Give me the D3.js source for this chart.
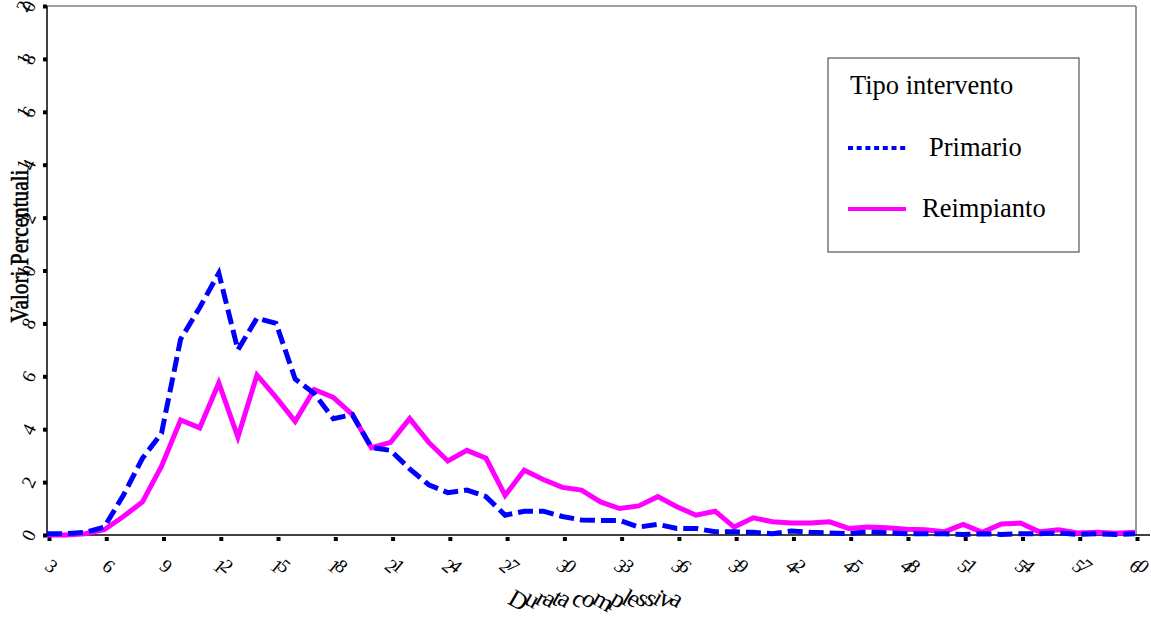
<!DOCTYPE html>
<html>
<head>
<meta charset="utf-8">
<script src="https://cdn.jsdelivr.net/npm/d3@7"></script>
<style>
  body { margin: 0; background: #fff; }
  svg { display: block; font-family: "Liberation Serif", "DejaVu Serif", serif; }
</style>
</head>
<body>
<svg width="1151" height="625"></svg>
<script>
// durata (x) and the two percentage series
var durata = [3, 4, 5, 6, 7, 8, 9, 10, 11, 12, 13, 14, 15, 16, 17, 18, 19, 20,
  21, 22, 23, 24, 25, 26, 27, 28, 29, 30, 31, 32, 33, 34, 35, 36, 37, 38, 39, 40,
  41, 42, 43, 44, 45, 46, 47, 48, 49, 50, 51, 52, 53, 54, 55, 56, 57, 58, 59, 60];

var primario = [0.05, 0.05, 0.1, 0.3, 1.5, 2.9, 3.85, 7.4, 8.6, 9.9, 7.0, 8.2, 8.0, 5.9,
  5.35, 4.4, 4.55, 3.3, 3.2, 2.5, 1.9, 1.6, 1.7, 1.45, 0.75, 0.9, 0.9, 0.7, 0.57, 0.55,
  0.55, 0.3, 0.4, 0.25, 0.25, 0.12, 0.12, 0.1, 0.05, 0.15, 0.1, 0.08, 0.05, 0.12, 0.08,
  0.05, 0.05, 0.05, 0.02, 0.05, 0.02, 0.05, 0.05, 0.08, 0.02, 0.05, 0.02, 0.05];

var reimpianto = [0, 0, 0.05, 0.2, 0.7, 1.25, 2.6, 4.35, 4.05, 5.75, 3.7, 6.05, 5.2, 4.3,
  5.5, 5.2, 4.55, 3.3, 3.5, 4.4, 3.5, 2.8, 3.2, 2.9, 1.5, 2.45, 2.1, 1.8, 1.7, 1.25,
  1.0, 1.1, 1.45, 1.07, 0.75, 0.9, 0.3, 0.65, 0.5, 0.45, 0.45, 0.5, 0.25, 0.3, 0.27,
  0.22, 0.2, 0.12, 0.4, 0.1, 0.42, 0.45, 0.12, 0.2, 0.08, 0.1, 0.07, 0.1];

var xTicks = [3, 6, 9, 12, 15, 18, 21, 24, 27, 30, 33, 36, 39, 42, 45, 48, 51, 54, 57, 60];
var yTicks = [0, 2, 4, 6, 8, 10, 12, 14, 16, 18, 20];

var seriesNames = ["Primario", "Reimpianto"];

(function () {
  var svg = d3.select("svg");

  var plotLeft = 47, plotRight = 1135, plotTop = 6, plotBottom = 535;

  var x = d3.scaleLinear().domain([3, 60]).range([plotLeft, plotRight]);
  var y = d3.scaleLinear().domain([0, 20]).range([plotBottom, plotTop]);

  // frame: top and right edges
  svg.append("line")
    .attr("x1", plotLeft).attr("x2", plotRight + 1)
    .attr("y1", plotTop).attr("y2", plotTop)
    .attr("stroke", "#444").attr("stroke-width", 1);
  svg.append("line")
    .attr("x1", plotRight + 1).attr("x2", plotRight + 1)
    .attr("y1", plotTop).attr("y2", plotBottom)
    .attr("stroke", "#777").attr("stroke-width", 1.5);

  // x axis
  var xAxis = d3.axisBottom(x).tickValues(xTicks).tickSize(4).tickPadding(12);
  var gx = svg.append("g")
    .attr("transform", "translate(0," + plotBottom + ")")
    .call(xAxis);
  gx.select(".domain").attr("stroke", "#000").attr("stroke-width", 1.5)
    .attr("d", "M" + plotLeft + ",0H1150");
  gx.selectAll(".tick line")
    .attr("y1", 2).attr("y2", 6)
    .attr("stroke-width", 4)
    .attr("transform", "translate(2,0)");
  gx.selectAll(".tick text")
    .attr("font-family", "Liberation Serif, serif")
    .attr("font-size", 19)
    .attr("fill", "#000")
    .attr("letter-spacing", -2)
    .attr("rotate", 40)
    .attr("dy", "0.9em");

  // y axis
  var yAxis = d3.axisLeft(y).tickValues(yTicks).tickSize(4).tickPadding(5);
  var gy = svg.append("g")
    .attr("transform", "translate(" + plotLeft + ",0)")
    .call(yAxis);
  gy.select(".domain").attr("stroke", "#000").attr("stroke-width", 1.5)
    .attr("d", "M0," + plotTop + "V" + plotBottom);
  gy.selectAll(".tick line")
    .attr("stroke-width", 4);
  gy.selectAll(".tick text")
    .attr("font-family", "Liberation Serif, serif")
    .attr("font-size", 19)
    .attr("fill", "#000")
    .attr("letter-spacing", -4)
    .attr("rotate", -65)
    .attr("dy", "0.35em");

  // axis titles
  svg.append("text")
    .attr("transform", "translate(28,246) rotate(-90)")
    .attr("text-anchor", "middle")
    .attr("font-size", 25)
    .attr("stroke", "#000")
    .attr("stroke-width", 0.6)
    .attr("textLength", 153)
    .attr("lengthAdjust", "spacingAndGlyphs")
    .text("Valori Percentuali");

  svg.append("text")
    .attr("x", 592).attr("y", 603)
    .attr("text-anchor", "middle")
    .attr("font-size", 25)
    .attr("letter-spacing", -1.5)
    .attr("rotate", 30)
    .text("Durata complessiva");

  // lines
  var line = d3.line()
    .x(function (d, i) { return x(durata[i]); })
    .y(function (d) { return y(d); });

  svg.append("path")
    .attr("d", line(reimpianto))
    .attr("fill", "none")
    .attr("stroke", "#ff00ff")
    .attr("stroke-width", 5)
    .attr("stroke-linejoin", "miter");

  svg.append("path")
    .attr("d", line(primario))
    .attr("fill", "none")
    .attr("stroke", "#0000ff")
    .attr("stroke-width", 5)
    .attr("stroke-dasharray", "15,6");

  // legend
  var lg = svg.append("g");
  lg.append("rect")
    .attr("x", 828).attr("y", 58)
    .attr("width", 251).attr("height", 194)
    .attr("fill", "#fff")
    .attr("stroke", "#333").attr("stroke-width", 1);
  lg.append("text")
    .attr("x", 850).attr("y", 94)
    .attr("font-size", 26.5)
    .text("Tipo intervento");

  lg.append("line")
    .attr("x1", 848).attr("x2", 906)
    .attr("y1", 148).attr("y2", 148)
    .attr("stroke", "#0000ff").attr("stroke-width", 4)
    .attr("stroke-dasharray", "5,3.7");
  lg.append("text")
    .attr("x", 929).attr("y", 156)
    .attr("font-size", 26.5)
    .text(seriesNames[0]);

  lg.append("line")
    .attr("x1", 848).attr("x2", 906)
    .attr("y1", 209).attr("y2", 209)
    .attr("stroke", "#ff00ff").attr("stroke-width", 4);
  lg.append("text")
    .attr("x", 922).attr("y", 217)
    .attr("font-size", 26.5)
    .text(seriesNames[1]);
})();
</script>
</body>
</html>
